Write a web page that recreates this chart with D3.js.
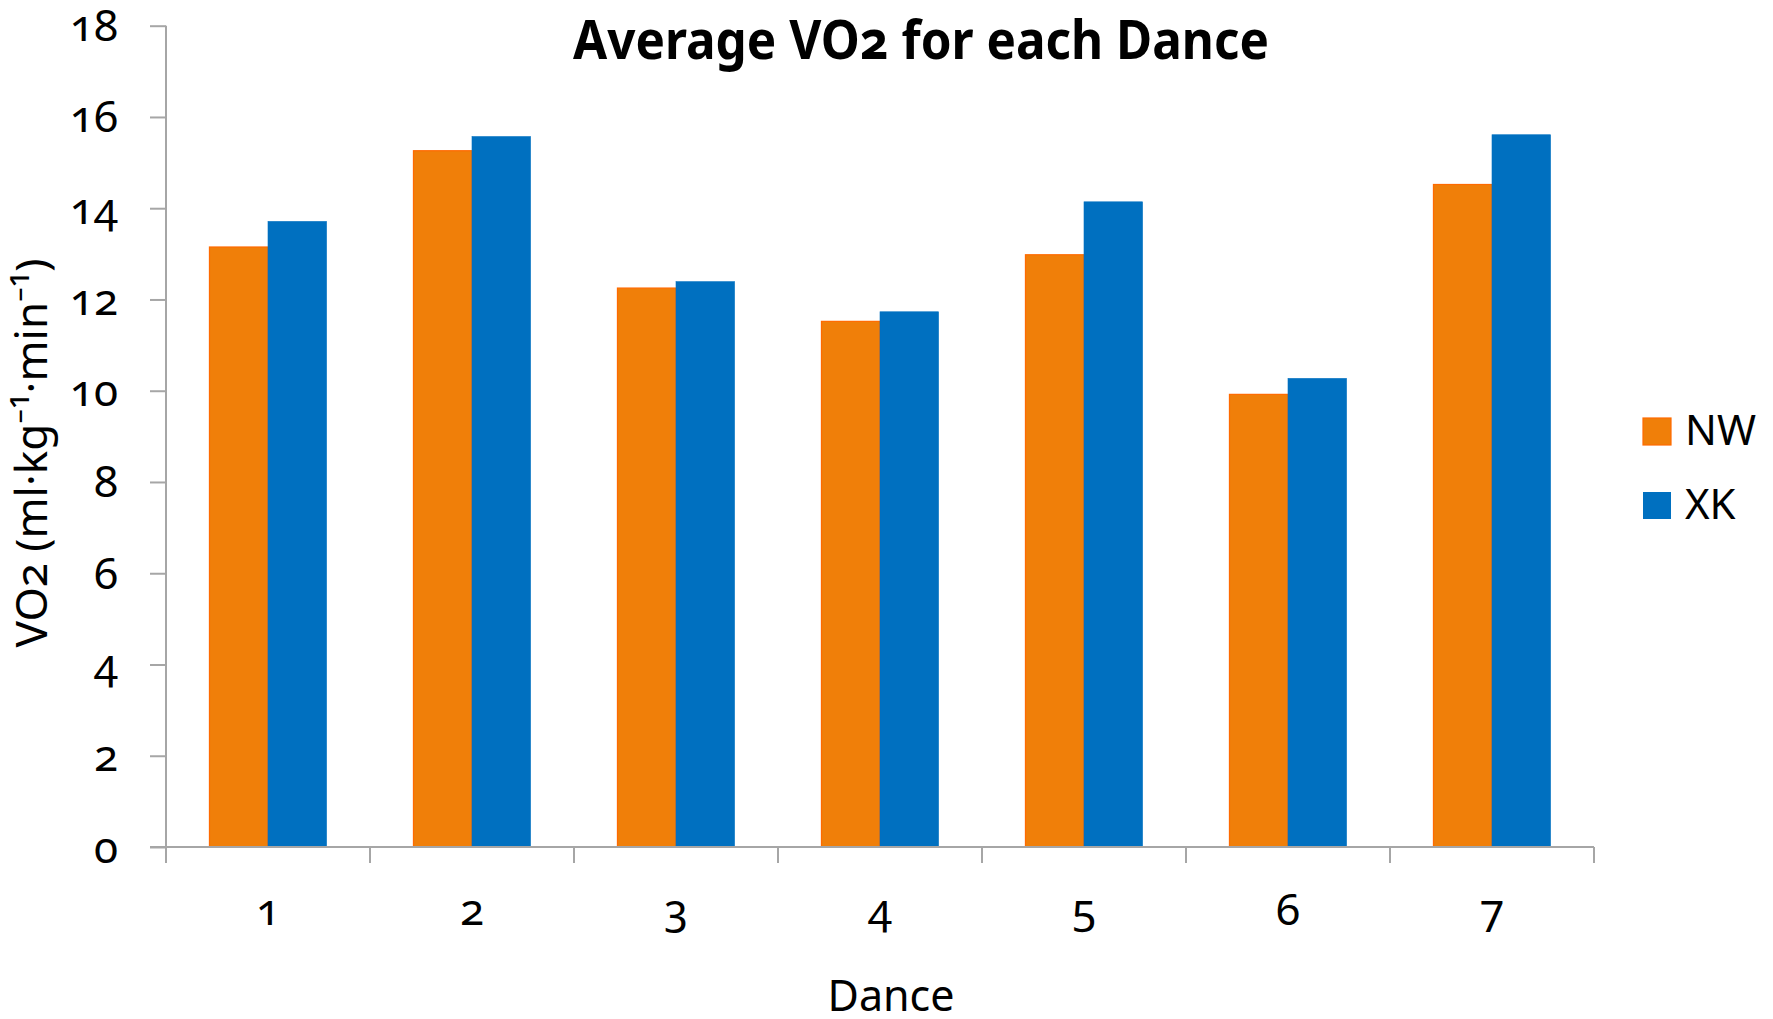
<!DOCTYPE html>
<html>
<head>
<meta charset="utf-8">
<script src="https://cdn.jsdelivr.net/npm/d3@7"></script>
<style>
  html, body { margin: 0; padding: 0; background: #fff; }
  svg { display: block; font-family: "Noto Sans", "Open Sans", sans-serif; font-variant-numeric: oldstyle-nums; }
  svg text { font-family: "Noto Sans", "Open Sans", sans-serif; font-variant-numeric: oldstyle-nums; }
</style>
</head>
<body>
<svg id="chart" width="1773" height="1019"></svg>
<script>
// Dance numbers along the x axis
const dances = ["1", "2", "3", "4", "5", "6", "7"];
// Series names shown in the legend
const seriesNames = ["NW", "XK"];
// Average VO2 per dance, ml·kg⁻¹·min⁻¹
const nwValues = [13.15, 15.26, 12.25, 11.52, 12.98, 9.92, 14.52];
const xkValues = [13.71, 15.57, 12.39, 11.73, 14.14, 10.27, 15.61];
// Y axis ticks
const yTicks = [0, 2, 4, 6, 8, 10, 12, 14, 16, 18];

const seriesValues = { NW: nwValues, XK: xkValues };
const colors = { NW: "#F07F09", XK: "#0070C0" };
const strokes = { NW: "#FF6A00", XK: "#0070C0" };

const svg = d3.select("#chart");
const plot = { left: 166, right: 1594, top: 25.7, bottom: 847 };
const axisColor = "#A6A6A6";

const x = d3.scaleBand().domain(dances).range([plot.left, plot.right]).padding(0);
const inset = x.bandwidth() * 0.213;
const x1 = d3.scaleBand().domain(seriesNames).range([inset, x.bandwidth() - inset]).padding(0);
const y = d3.scaleLinear().domain([0, 18]).range([plot.bottom, plot.top]);

// Bars
const groups = svg.append("g").selectAll("g")
  .data(dances)
  .join("g")
  .attr("transform", d => `translate(${x(d)},0)`);

groups.selectAll("rect")
  .data((d, i) => seriesNames.map(s => ({ s, v: seriesValues[s][i] })))
  .join("rect")
  .attr("x", d => x1(d.s))
  .attr("y", d => y(d.v))
  .attr("width", x1.bandwidth())
  .attr("height", d => y(0) - y(d.v))
  .attr("fill", d => colors[d.s])
  .attr("stroke", d => strokes[d.s])
  .attr("stroke-width", d => d.s === "NW" ? 1.2 : 0.6);

// Y axis
const yAxis = svg.append("g")
  .attr("transform", `translate(${plot.left},0)`)
  .call(d3.axisLeft(y).tickValues(yTicks).tickSize(16).tickPadding(32).tickSizeOuter(0));
yAxis.attr("font-family", null).attr("font-size", null);
yAxis.select(".domain").attr("stroke", axisColor).attr("stroke-width", 2)
  .attr("d", `M0,${plot.top}V${plot.bottom + 16}`);
yAxis.selectAll(".tick line").attr("stroke", axisColor).attr("stroke-width", 2);
yAxis.selectAll(".tick text")
  .attr("dy", "15px")
  .attr("fill", "#000")
  .style("font-size", "44px");

// X axis: line, boundary ticks and centred labels
const xAxis = svg.append("g").attr("transform", `translate(0,${plot.bottom})`);
xAxis.append("path")
  .attr("d", `M${plot.left - 16},0H${plot.right}`)
  .attr("stroke", axisColor).attr("stroke-width", 2).attr("fill", "none");
const boundaries = dances.map(d => x(d)).concat([x(dances[dances.length - 1]) + x.bandwidth()]);
xAxis.selectAll("line.b")
  .data(boundaries)
  .join("line")
  .attr("class", "b")
  .attr("x1", d => d).attr("x2", d => d)
  .attr("y1", 0).attr("y2", 16)
  .attr("stroke", axisColor).attr("stroke-width", 2);
xAxis.selectAll("text")
  .data(dances)
  .join("text")
  .attr("x", d => x(d) + x.bandwidth() / 2)
  .attr("y", 78)
  .attr("text-anchor", "middle")
  .style("font-size", "44px")
  .text(d => d);

// Titles
svg.append("text")
  .attr("x", 921).attr("y", 59)
  .attr("text-anchor", "middle")
  .attr("textLength", 696)
  .attr("lengthAdjust", "spacingAndGlyphs")
  .style("font-size", "54px")
  .style("font-weight", "bold")
  .text("Average VO2 for each Dance");

svg.append("text")
  .attr("x", 891).attr("y", 1011)
  .attr("text-anchor", "middle")
  .style("font-size", "43px")
  .text("Dance");

svg.append("text")
  .attr("transform", "translate(47,453) rotate(-90)")
  .attr("text-anchor", "middle")
  .style("font-size", "44px")
  .text("VO2 (ml·kg⁻¹·min⁻¹)");

// Legend
const legend = svg.append("g").selectAll("g")
  .data(seriesNames)
  .join("g")
  .attr("transform", (d, i) => `translate(1643,${418 + i * 74})`);
legend.append("rect")
  .attr("width", 28).attr("height", 27)
  .attr("fill", d => colors[d])
  .attr("stroke", d => strokes[d])
  .attr("stroke-width", d => d === "NW" ? 1.2 : 0);
legend.append("text")
  .attr("x", 42).attr("y", 27)
  .style("font-size", "42px")
  .text(d => d);
</script>
</body>
</html>
